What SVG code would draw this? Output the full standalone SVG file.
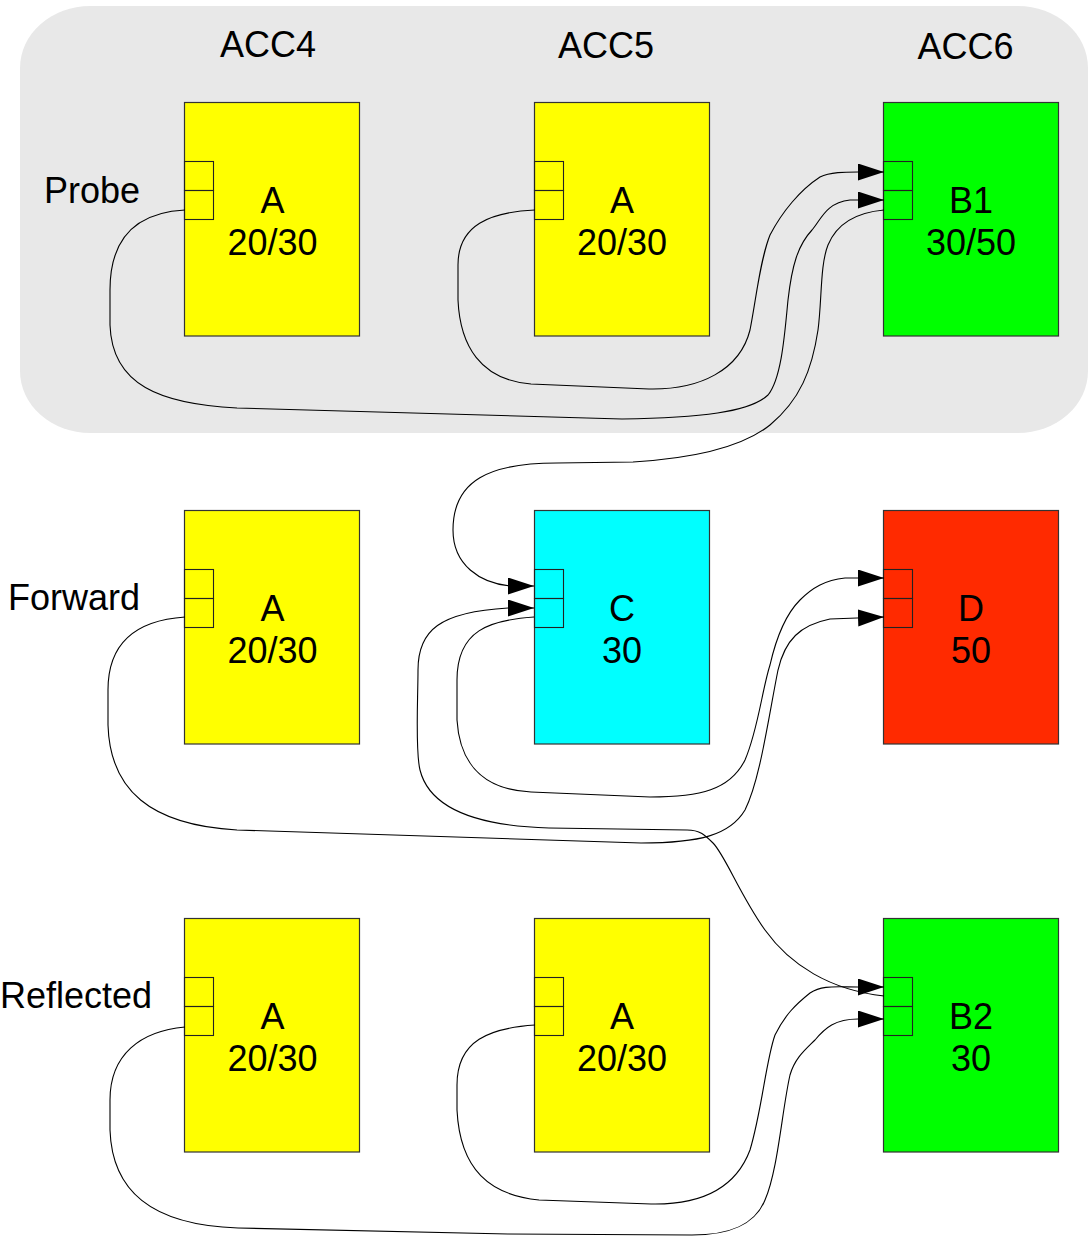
<svg xmlns="http://www.w3.org/2000/svg" width="1092" height="1236" viewBox="0 0 1092 1236">
  <defs>
    <style>
      text { font-family: "Liberation Sans", Arial, sans-serif; font-size: 36px; fill: #000; }
      .mid { text-anchor: middle; }
      .box { stroke: #333; stroke-width: 1.2; }
      .port { fill: none; stroke: #222; stroke-width: 1.1; }
      .yellow { fill: #ffff00; }
      .green { fill: #00ff00; }
      .cyan { fill: #00ffff; }
      .red { fill: #ff2a00; }
      .wire { fill: none; stroke: #000; stroke-width: 1.1; }
      .arrow { marker-end: url(#head); }
    </style>
    <marker id="head" markerUnits="userSpaceOnUse" markerWidth="26" markerHeight="18" refX="26" refY="8.5" orient="auto">
      <path d="M0,0 L26,8.5 L0,17 Z" fill="#000"/>
    </marker>
  </defs>

  <!-- shaded probe band -->
  <g id="probe-band">
    <rect x="20" y="6" width="1068" height="427" rx="70" ry="62" fill="#e8e8e8"/>
  </g>

  <!-- column and row captions -->
  <g id="captions">
    <text class="mid" x="268" y="56.5">ACC4</text>
    <text class="mid" x="606" y="58">ACC5</text>
    <text class="mid" x="965.5" y="58.5">ACC6</text>
    <text x="44" y="203">Probe</text>
    <text x="8" y="610">Forward</text>
    <text x="0" y="1008">Reflected</text>
  </g>

  <!-- row 1: probe -->
  <g id="probe-acc4">
    <rect class="box yellow" x="184.5" y="102.5" width="175" height="233.5"/>
    <rect class="port" x="184.5" y="161.5" width="29" height="29"/>
    <rect class="port" x="184.5" y="190.5" width="29" height="29"/>
    <text class="mid" x="272.5" y="213">A</text>
    <text class="mid" x="272.5" y="254.5">20/30</text>
  </g>
  <g id="probe-acc5">
    <rect class="box yellow" x="534.5" y="102.5" width="175" height="233.5"/>
    <rect class="port" x="534.5" y="161.5" width="29" height="29"/>
    <rect class="port" x="534.5" y="190.5" width="29" height="29"/>
    <text class="mid" x="622" y="213">A</text>
    <text class="mid" x="622" y="254.5">20/30</text>
  </g>
  <g id="probe-acc6">
    <rect class="box green" x="883.5" y="102.5" width="175" height="233.5"/>
    <rect class="port" x="883.5" y="161.5" width="29" height="29"/>
    <rect class="port" x="883.5" y="190.5" width="29" height="29"/>
    <text class="mid" x="971" y="213">B1</text>
    <text class="mid" x="971" y="254.5">30/50</text>
  </g>

  <!-- row 2: forward -->
  <g id="forward-acc4">
    <rect class="box yellow" x="184.5" y="510.5" width="175" height="233.5"/>
    <rect class="port" x="184.5" y="569.5" width="29" height="29"/>
    <rect class="port" x="184.5" y="598.5" width="29" height="29"/>
    <text class="mid" x="272.5" y="621">A</text>
    <text class="mid" x="272.5" y="662.5">20/30</text>
  </g>
  <g id="forward-acc5">
    <rect class="box cyan" x="534.5" y="510.5" width="175" height="233.5"/>
    <rect class="port" x="534.5" y="569.5" width="29" height="29"/>
    <rect class="port" x="534.5" y="598.5" width="29" height="29"/>
    <text class="mid" x="622" y="621">C</text>
    <text class="mid" x="622" y="662.5">30</text>
  </g>
  <g id="forward-acc6">
    <rect class="box red" x="883.5" y="510.5" width="175" height="233.5"/>
    <rect class="port" x="883.5" y="569.5" width="29" height="29"/>
    <rect class="port" x="883.5" y="598.5" width="29" height="29"/>
    <text class="mid" x="971" y="621">D</text>
    <text class="mid" x="971" y="662.5">50</text>
  </g>

  <!-- row 3: reflected -->
  <g id="reflected-acc4">
    <rect class="box yellow" x="184.5" y="918.5" width="175" height="233.5"/>
    <rect class="port" x="184.5" y="977.5" width="29" height="29"/>
    <rect class="port" x="184.5" y="1006.5" width="29" height="29"/>
    <text class="mid" x="272.5" y="1029">A</text>
    <text class="mid" x="272.5" y="1070.5">20/30</text>
  </g>
  <g id="reflected-acc5">
    <rect class="box yellow" x="534.5" y="918.5" width="175" height="233.5"/>
    <rect class="port" x="534.5" y="977.5" width="29" height="29"/>
    <rect class="port" x="534.5" y="1006.5" width="29" height="29"/>
    <text class="mid" x="622" y="1029">A</text>
    <text class="mid" x="622" y="1070.5">20/30</text>
  </g>
  <g id="reflected-acc6">
    <rect class="box green" x="883.5" y="918.5" width="175" height="233.5"/>
    <rect class="port" x="883.5" y="977.5" width="29" height="29"/>
    <rect class="port" x="883.5" y="1006.5" width="29" height="29"/>
    <text class="mid" x="971" y="1029">B2</text>
    <text class="mid" x="971" y="1070.5">30</text>
  </g>

  <!-- connectors -->
  <g id="connectors">
    <!-- probe ACC4 A -> B1 lower input -->
    <path class="wire arrow" d="M185,210 C145,212 110,230 110,290 L110,325 C112,385 160,404 237,408 L622,419 C700,418 750,412 768,395 C782,378 785,330 788,300 C792,265 798,245 812,230 C822,218 826,203 850,200 L884,200"/>
    <!-- probe ACC5 A -> B1 upper input -->
    <path class="wire arrow" d="M535,210 C490,212 458,225 458,265 L458,300 C460,345 480,380 531,384 L649,389 C700,390 740,370 750,330 C756,300 760,260 770,235 C782,212 800,190 820,177 C830,172 845,172 858,172 L884,172"/>
    <!-- B1 output -> C upper input -->
    <path class="wire arrow" d="M884,210 C850,213 835,228 828,245 C820,265 822,300 818,330 C812,370 800,400 770,425 C745,445 700,458 633,462 L557,463 C490,463 453,480 453,530 C453,565 480,583 510,586 L534,586"/>
    <!-- forward ACC4 A -> D lower input -->
    <path class="wire arrow" d="M185,617 C140,620 108,640 108,690 L108,725 C110,790 150,825 237,830 L641,843 C700,843 730,835 745,810 C760,780 768,720 778,670 C785,640 800,625 830,619 L884,617"/>
    <!-- C output -> D upper input -->
    <path class="wire arrow" d="M534,617 C490,620 457,630 457,680 L457,720 C460,770 490,790 531,792 L650,797 C700,797 730,790 745,760 C758,730 762,690 770,665 C778,630 790,610 800,600 C812,588 825,580 845,578 L884,578"/>
    <!-- B2 output -> C lower input -->
    <path class="wire arrow" d="M884,996 C830,990 790,965 765,930 C740,895 725,855 713,843 C705,835 700,830 687,830 L549,828 C480,826 430,810 420,770 C415,750 418,700 418,670 C418,630 440,612 508,608 L534,608"/>
    <!-- reflected ACC4 A -> B2 lower input -->
    <path class="wire arrow" d="M185,1027 C140,1031 110,1055 110,1100 L110,1130 C112,1190 150,1225 238,1228 L508,1234 L692,1235 C730,1235 755,1225 765,1200 C778,1170 782,1110 790,1075 C795,1058 805,1050 815,1040 C825,1028 835,1019 858,1019 L884,1019"/>
    <!-- reflected ACC5 A -> B2 upper input -->
    <path class="wire arrow" d="M535,1025 C490,1028 457,1040 457,1085 L457,1110 C460,1170 490,1195 539,1200 L651,1204 C700,1205 735,1190 750,1150 C762,1110 766,1060 775,1035 C785,1015 795,1005 810,993 C822,985 835,987 858,987 L884,987"/>
  </g>
</svg>
